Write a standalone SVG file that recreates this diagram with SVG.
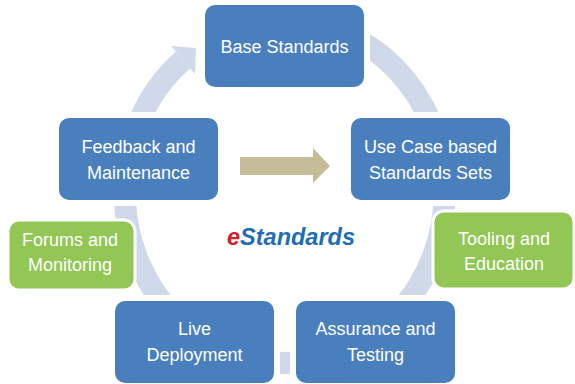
<svg xmlns="http://www.w3.org/2000/svg" width="575" height="384" viewBox="0 0 575 384">
<style>
.blue{fill:#4A7FBD}
.green{fill:#92C655;stroke:#fff;stroke-width:3}
.mask{fill:#fff}
.t{font-family:"Liberation Sans",Arial,sans-serif;font-size:18px;fill:#fff;text-anchor:middle}
.ring{fill:none;stroke:#D0D9E9;stroke-width:22}
</style>
<rect width="575" height="384" fill="#fff"/>
<g id="connectors">
<path class="ring" d="M 285 21 A 160 171 0 1 1 183 60"/>
<polygon fill="#D0D9E9" points="171,46 196,48 195,74"/>
<polygon id="center-arrow" fill="#C4BD97" points="240,157 313,157 313,148 330,166 313,183 313,175 240,175"/>
</g>
<g id="masks">
<rect class="mask" x="199" y="-1" width="171" height="94" rx="15"/>
<rect class="mask" x="53" y="112" width="171" height="94" rx="15"/>
<rect class="mask" x="345" y="112" width="171" height="94" rx="15"/>
<rect class="mask" x="109" y="295" width="171" height="94" rx="15"/>
<rect class="mask" x="290" y="295" width="171" height="94" rx="15"/>
</g>
<g id="base">
<rect class="blue" x="205" y="5" width="159" height="82" rx="10"/>
<text class="t" x="284.5" y="53">Base Standards</text>
</g>
<g id="usecase">
<rect class="blue" x="351" y="118" width="159" height="82" rx="10"/>
<text class="t" x="430.5" y="153">Use Case based</text>
<text class="t" x="430.5" y="179">Standards Sets</text>
</g>
<g id="feedback">
<rect class="blue" x="59" y="118" width="159" height="82" rx="10"/>
<text class="t" x="138.5" y="153">Feedback and</text>
<text class="t" x="138.5" y="179">Maintenance</text>
</g>
<g id="live">
<rect class="blue" x="115" y="301" width="159" height="82" rx="10"/>
<text class="t" x="194.5" y="335">Live</text>
<text class="t" x="194.5" y="361">Deployment</text>
</g>
<g id="assurance">
<rect class="blue" x="296" y="301" width="159" height="82" rx="10"/>
<text class="t" x="375.5" y="335">Assurance and</text>
<text class="t" x="375.5" y="361">Testing</text>
</g>
<g id="forums">
<rect class="green" x="8" y="220" width="127" height="70" rx="11"/>
<text class="t" x="70" y="246">Forums and</text>
<text class="t" x="70" y="271">Monitoring</text>
</g>
<g id="tooling">
<rect class="green" x="433" y="211" width="141" height="78" rx="11"/>
<text class="t" x="504" y="245">Tooling and</text>
<text class="t" x="504" y="270">Education</text>
</g>
<g id="title">
<text x="227" y="245" font-family="Liberation Sans,Arial,sans-serif" font-size="23.5" font-weight="bold" font-style="italic"><tspan fill="#D2232A">e</tspan><tspan fill="#1F6DB5">Standards</tspan></text>
</g>
</svg>
